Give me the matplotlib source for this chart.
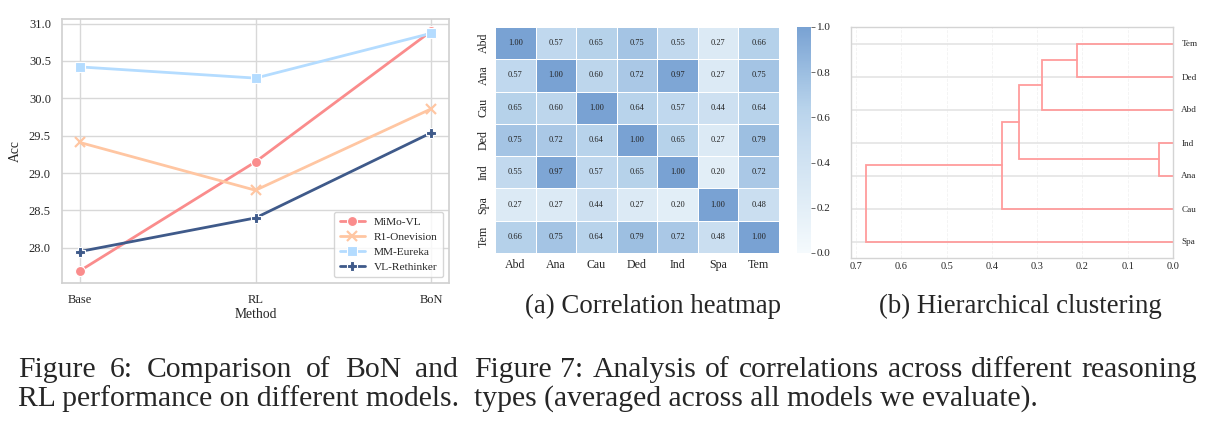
import numpy as np
import matplotlib
matplotlib.use('Agg')
import matplotlib.pyplot as plt
import seaborn as sns
from matplotlib.colors import LinearSegmentedColormap

# data
methods = ['Base', 'RL', 'BoN']
models = ['MiMo-VL', 'R1-Onevision', 'MM-Eureka', 'VL-Rethinker']
acc_mimo = [27.69, 29.15, 30.90]
acc_r1 = [29.41, 28.77, 29.86]
acc_eureka = [30.42, 30.27, 30.87]
acc_rethinker = [27.95, 28.40, 29.54]

types = ['Abd', 'Ana', 'Cau', 'Ded', 'Ind', 'Spa', 'Tem']
corr = np.array([
    [1.00, 0.57, 0.65, 0.75, 0.55, 0.27, 0.66],
    [0.57, 1.00, 0.60, 0.72, 0.97, 0.27, 0.75],
    [0.65, 0.60, 1.00, 0.64, 0.57, 0.44, 0.64],
    [0.75, 0.72, 0.64, 1.00, 0.65, 0.27, 0.79],
    [0.55, 0.97, 0.57, 0.65, 1.00, 0.20, 0.72],
    [0.27, 0.27, 0.44, 0.27, 0.20, 1.00, 0.48],
    [0.66, 0.75, 0.64, 0.79, 0.72, 0.48, 1.00],
])

# dendrogram: leaf order bottom->top, merges (a, b, height)
leaf_order = ['Spa', 'Cau', 'Ana', 'Ind', 'Abd', 'Ded', 'Tem']
merges = [
    ('Ind', 'Ana', 0.031),
    ('Tem', 'Ded', 0.211),
    ('c1', 'Abd', 0.290),
    ('c2', 'c0', 0.340),
    ('c3', 'Cau', 0.378),
    ('c4', 'Spa', 0.677),
]

sns.set_theme(style='whitegrid')
plt.rcParams['font.family'] = ['Liberation Serif', 'DejaVu Serif']

W, H = 1215, 432
fig = plt.figure(figsize=(W / 100, H / 100), dpi=100)


def px_axes(x0, y0, x1, y1):
    return fig.add_axes([x0 / W, 1 - y1 / H, (x1 - x0) / W, (y1 - y0) / H])


# Figure 6: line chart
ax1 = px_axes(62, 19, 449, 283)
colors = ['#FA8C8C', '#FFC6A2', '#B4DCFF', '#3F5A8A']
marks = ['o', 'x', 's', 'P']
series = [acc_mimo, acc_r1, acc_eureka, acc_rethinker]
xs = np.arange(len(methods))
for name, vals, c, m in zip(models, series, colors, marks):
    if m == 'x':
        ax1.plot(xs, vals, color=c, lw=2, marker='x', ms=6.5, mew=1.6, label=name)
    else:
        ax1.plot(xs, vals, color=c, lw=2, marker=m, ms=7.2, mec='white', mew=0.8, label=name)
ax1.set_xticks(xs)
ax1.set_xticklabels(methods)
ax1.set_xlabel('Method', fontsize=9.8, labelpad=1)
ax1.set_ylabel('Acc', fontsize=9.8, labelpad=5)
ax1.set_yticks([28.0, 28.5, 29.0, 29.5, 30.0, 30.5, 31.0])
ax1.tick_params(labelsize=9, pad=2)
ax1.legend(loc='lower right', fontsize=8.2, frameon=True, handlelength=2.2,
           borderpad=0.5, labelspacing=0.42)
for s in ax1.spines.values():
    s.set_color('#D0D0D0')
    s.set_linewidth(1.2)
ax1.grid(color='#D8D8D8', lw=1)

# Figure 7a: heatmap
ax2 = px_axes(495, 27, 779, 253)
cax = px_axes(797, 27, 811, 253)
cmap = LinearSegmentedColormap.from_list('bl', [
    (0.0, '#F5FAFD'), (0.27, '#DCEAF5'), (0.5, '#C8DDF0'),
    (0.64, '#B8D3EB'), (0.8, '#9CBEE1'), (1.0, '#79A2D3')])
sns.heatmap(corr, ax=ax2, cbar_ax=cax, cmap=cmap, vmin=0, vmax=1, annot=True,
            fmt='.2f', annot_kws={'fontsize': 6, 'color': '#222222'},
            linewidths=0.5, linecolor='white',
            xticklabels=types, yticklabels=types)
ax2.tick_params(labelsize=8.6, length=0, pad=4)
plt.setp(ax2.get_yticklabels(), rotation=90, va='center')
plt.setp(ax2.get_xticklabels(), rotation=0)
cax.tick_params(labelsize=8, length=3, width=0.6, color='#555555', pad=1)
cax.set_yticks([0, 0.2, 0.4, 0.6, 0.8, 1.0])
cax.set_yticklabels(['0.0', '0.2', '0.4', '0.6', '0.8', '1.0'])

# Figure 7b: dendrogram
ax3 = px_axes(851, 27, 1173, 258)
pos = {name: 5 + 10 * i for i, name in enumerate(leaf_order)}
hgt = {name: 0.0 for name in leaf_order}
for i, (a, b, h) in enumerate(merges):
    ya, yb = pos[a], pos[b]
    ax3.plot([hgt[a], h, h, hgt[b]], [ya, ya, yb, yb], color='#FF9C9C', lw=1.3,
             solid_joinstyle='miter')
    pos['c%d' % i] = (ya + yb) / 2
    hgt['c%d' % i] = h
ax3.set_ylim(0, 10 * len(leaf_order))
top = merges[-1][2]
ax3.set_xlim(top * 1.05, 0)
ax3.set_xticks(np.arange(0, 0.71, 0.1))
ax3.set_xticklabels(['%.1f' % v for v in np.arange(0, 0.71, 0.1)])
ax3.set_yticks([pos[n] for n in leaf_order])
ax3.set_yticklabels(leaf_order)
ax3.yaxis.tick_right()
ax3.tick_params(axis='y', labelsize=6.6, length=0, pad=6)
ax3.tick_params(axis='x', labelsize=7.4, length=0, pad=3)
ax3.grid(axis='y', color='#E4E4E4', lw=1.2)
ax3.grid(axis='x', color='#F2F2F2', lw=0.6, ls='--')
for s in ax3.spines.values():
    s.set_color('#D4D4D4')
    s.set_linewidth(1)

# captions
fig.text(653 / W, 1 - 313 / H, '(a) Correlation heatmap', fontsize=19.4, ha='center', va='baseline')
fig.text(1020 / W, 1 - 313 / H, '(b) Hierarchical clustering', fontsize=19.4, ha='center', va='baseline')

renderer = fig.canvas.get_renderer()


def justify(line, x0, x1, y, size):
    words = line.split()
    objs = [fig.text(0, 1 - y / H, w, fontsize=size, va='baseline') for w in words]
    widths = [o.get_window_extent(renderer).width for o in objs]
    gap = (x1 - x0 - sum(widths)) / (len(words) - 1)
    x = x0
    for o, wd in zip(objs, widths):
        o.set_x(x / W)
        x += wd + gap


justify('Figure 6:  Comparison of BoN and', 18, 458, 377, 21.3)
fig.text(18 / W, 1 - 406 / H, 'RL performance on different models.', fontsize=21.3, va='baseline')
justify('Figure 7: Analysis of correlations across different reasoning', 474, 1197, 377, 21.3)
fig.text(474 / W, 1 - 406 / H, 'types (averaged across all models we evaluate).', fontsize=21.3, va='baseline')

fig.savefig('out.png', dpi=100)
